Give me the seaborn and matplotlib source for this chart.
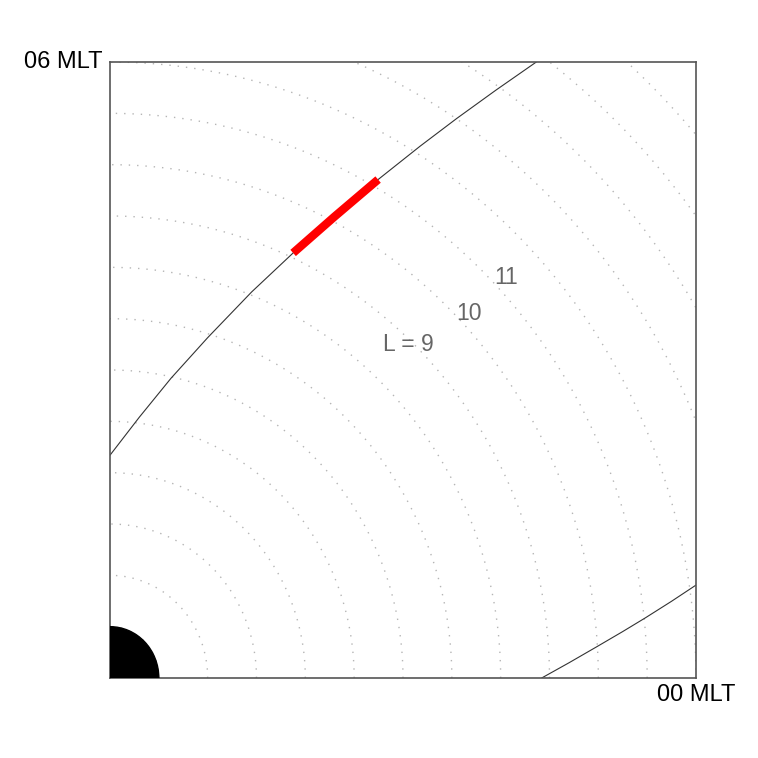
import numpy as np
import pandas as pd
import matplotlib
matplotlib.use("Agg")
import matplotlib.pyplot as plt
from matplotlib.patches import Circle
import seaborn as sns

# ---- data ----
orbit_a_x = [0.00, 0.60, 1.25, 2.00, 2.90, 3.75, 4.60, 5.49, 6.35, 7.10, 7.90, 8.73]
orbit_a_y = [4.34, 5.08, 5.84, 6.63, 7.52, 8.28, 8.99, 9.71, 10.36, 10.90, 11.45, 12.00]
orbit_b_x = [8.84, 9.40, 9.97, 10.50, 10.96, 11.50, 12.00]
orbit_b_y = [0.00, 0.297, 0.61, 0.905, 1.17, 1.495, 1.81]
event_x = [3.75, 4.60, 5.49]
event_y = [8.28, 8.99, 9.71]
L_shells = list(range(1, 17))
L_label_text = ["L = 9", "10", "11"]
L_label_x = [6.12, 7.35, 8.11]
L_label_y = [6.50, 7.10, 7.80]
axis_limits = [0, 12]
corner_labels = ["06 MLT", "00 MLT"]

sns.set_style("white")
plt.rcParams['font.family'] = ['Liberation Sans', 'DejaVu Sans']

fig = plt.figure(figsize=(7.58, 7.58), dpi=100)
ax = fig.add_axes([110/758, 80/758, 586/758, 616/758])

# dotted L-shell circles
th = np.linspace(0, np.pi / 2, 300)
for L in L_shells:
    ax.plot(L * np.cos(th), L * np.sin(th), linestyle=(0, (1, 5)),
            color="#b5b5b5", linewidth=1.0, zorder=1)

df_a = pd.DataFrame({"x": orbit_a_x, "y": orbit_a_y})
df_b = pd.DataFrame({"x": orbit_b_x, "y": orbit_b_y})
df_e = pd.DataFrame({"x": event_x, "y": event_y})

sns.lineplot(data=df_a, x="x", y="y", sort=False, estimator=None,
             color="#333333", linewidth=0.8, ax=ax, zorder=2)
sns.lineplot(data=df_b, x="x", y="y", sort=False, estimator=None,
             color="#333333", linewidth=0.8, ax=ax, zorder=2)
sns.lineplot(data=df_e, x="x", y="y", sort=False, estimator=None,
             color="#ff0000", linewidth=6.0, ax=ax, zorder=3,
             solid_capstyle="butt", solid_joinstyle="round")

# Earth
ax.add_patch(Circle((0, 0), 1.0, color="black", zorder=4, clip_on=True))

for t, x, y in zip(L_label_text, L_label_x, L_label_y):
    ax.text(x, y, t, ha="center", va="center", fontsize=16.5, color="#666666", zorder=5)

ax.set_xlim(axis_limits)
ax.set_ylim(axis_limits)
ax.set_xticks([])
ax.set_yticks([])
ax.set_xlabel("")
ax.set_ylabel("")
for s in ax.spines.values():
    s.set_visible(True)
    s.set_color("#555555")
    s.set_linewidth(1.2)

ax.text(-0.012, 1.0, corner_labels[0], transform=ax.transAxes, ha="right", va="center",
        fontsize=17, color="black")
ax.text(1.0, -0.028, corner_labels[1], transform=ax.transAxes, ha="center", va="center",
        fontsize=17, color="black")

fig.savefig("out.png", dpi=100, facecolor="white")
